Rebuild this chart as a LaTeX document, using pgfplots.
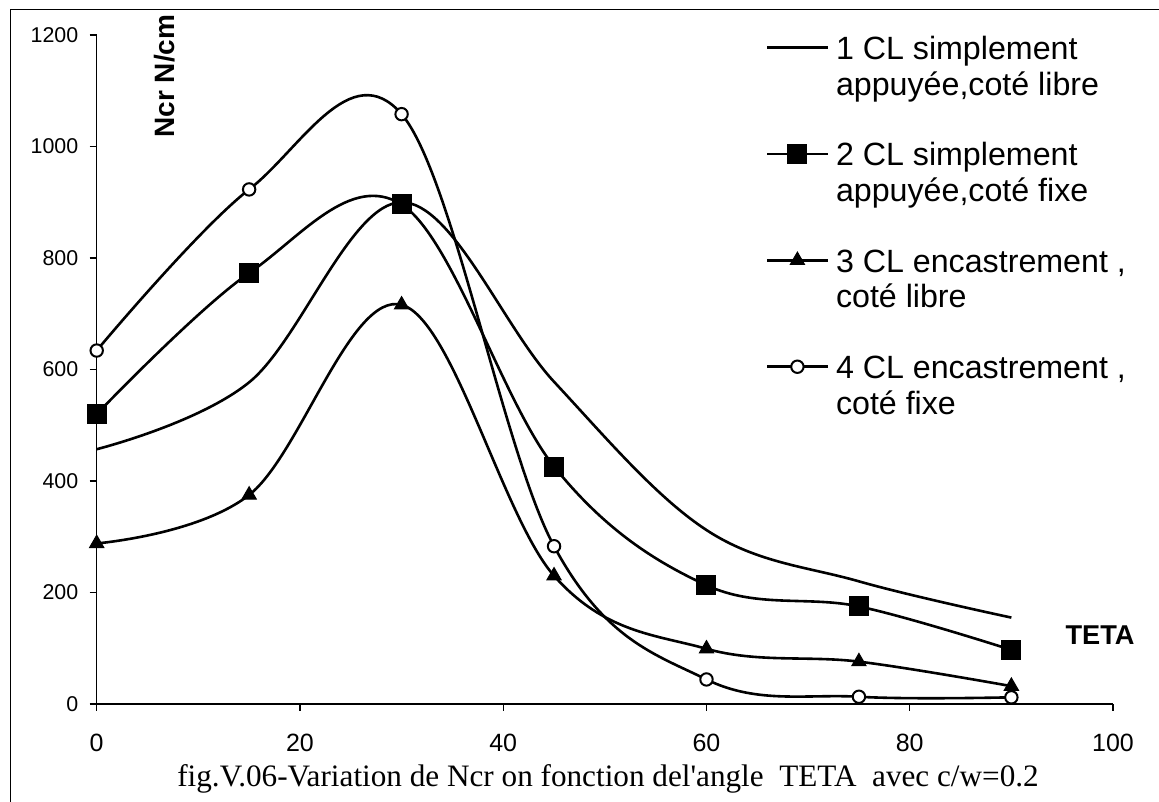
\documentclass[border=0pt]{standalone}
\usepackage{pgfplots}
\pgfplotsset{compat=1.18}
\usepackage{fontspec}
\setmainfont{Liberation Serif}
\newfontfamily\arial{Liberation Sans}
\begin{document}
\begin{tikzpicture}
\useasboundingbox (0,0) rectangle (579.5bp,401bp);
\fill[white] (0,0) rectangle (579.5bp,401bp);
\draw[line width=0.5bp] (5bp,0) -- (5bp,396bp) -- (579.5bp,396bp);
\begin{axis}[
  at={(48.35bp,49bp)}, anchor=south west,
  scale only axis, width=508.15bp, height=334.5bp,
  xmin=0, xmax=100, ymin=0, ymax=1200,
  xtick={0,20,...,100}, ytick={0,200,...,1200},
  axis x line*=bottom, axis y line*=left,
  axis line style={line width=0.6bp, -},
  tick align=outside, major tick length=3.5bp,
  tick style={line width=0.6bp, black},
  /pgf/number format/assume math mode=true,
  /pgf/number format/1000 sep={},
  xticklabel style={font=\arial\fontsize{12.5bp}{14bp}\selectfont, anchor=base, inner sep=0pt, yshift=-20.35bp},
  yticklabel style={font=\arial\fontsize{10.7bp}{12bp}\selectfont, anchor=east, inner sep=0pt, xshift=-5.5bp},
  clip=false,
  legend style={draw=none, fill=none, inner sep=0pt, at={(0.65827,1.0015)}, anchor=north west,
    row sep=39.2bp, column sep=3.65bp, cells={anchor=base west}, nodes={inner sep=0pt},
    font=\arial\fontsize{16.1bp}{17.85bp}\selectfont},
  legend image code/.code={\draw[mark repeat=2,mark phase=2,#1] plot coordinates {(0bp,5.9bp) (15bp,5.9bp) (30bp,5.9bp)};},
]
\addplot[black, smooth, tension=0.6, line width=1.3bp, mark=none] coordinates {
(0,457) (15,577) (30,900) (45,578) (60,312) (75,220) (90,155)};
\addlegendentry{\begin{tabular}[t]{@{}l@{}}1 CL simplement\\appuyée,coté libre\end{tabular}}
\addplot[black, smooth, tension=0.6, line width=1.3bp, mark=square*, mark size=4.75bp, mark options={line width=0.5bp, fill=black}] coordinates {
(0,520) (15,773) (30,896) (45,426) (60,213) (75,175) (90,97)};
\addlegendentry{\begin{tabular}[t]{@{}l@{}}2 CL simplement\\appuyée,coté fixe\end{tabular}}
\addplot[black, smooth, tension=0.6, line width=1.3bp, mark=triangle*, mark size=4.1bp, mark options={line width=0.5bp, fill=black}] coordinates {
(0,288) (15,375) (30,716) (45,230) (60,99) (75,76) (90,32)};
\addlegendentry{\begin{tabular}[t]{@{}l@{}}3 CL encastrement ,\\coté libre\end{tabular}}
\addplot[black, smooth, tension=0.6, line width=1.3bp, mark=*, mark size=3.1bp, mark options={line width=1bp, fill=white}] coordinates {
(0,634) (15,923) (30,1058) (45,283) (60,44) (75,13) (90,12)};
\addlegendentry{\begin{tabular}[t]{@{}l@{}}4 CL encastrement ,\\coté fixe\end{tabular}}
\node[rotate=90, anchor=base, font=\arial\bfseries\fontsize{14bp}{16bp}\selectfont] at (rel axis cs:0.07704,0.93871) {Ncr N/cm};
\node[anchor=base, font=\arial\bfseries\fontsize{13.6bp}{16bp}\selectfont] at (rel axis cs:0.9872,0.0882) {TETA};
\end{axis}
\node[anchor=base, font=\fontsize{15.6bp}{18bp}\selectfont] at (304bp,8bp) {fig.V.06-Variation de Ncr on fonction del\textquotesingle angle\ \ TETA\ \ avec c/w=0.2};
\end{tikzpicture}
\end{document}
